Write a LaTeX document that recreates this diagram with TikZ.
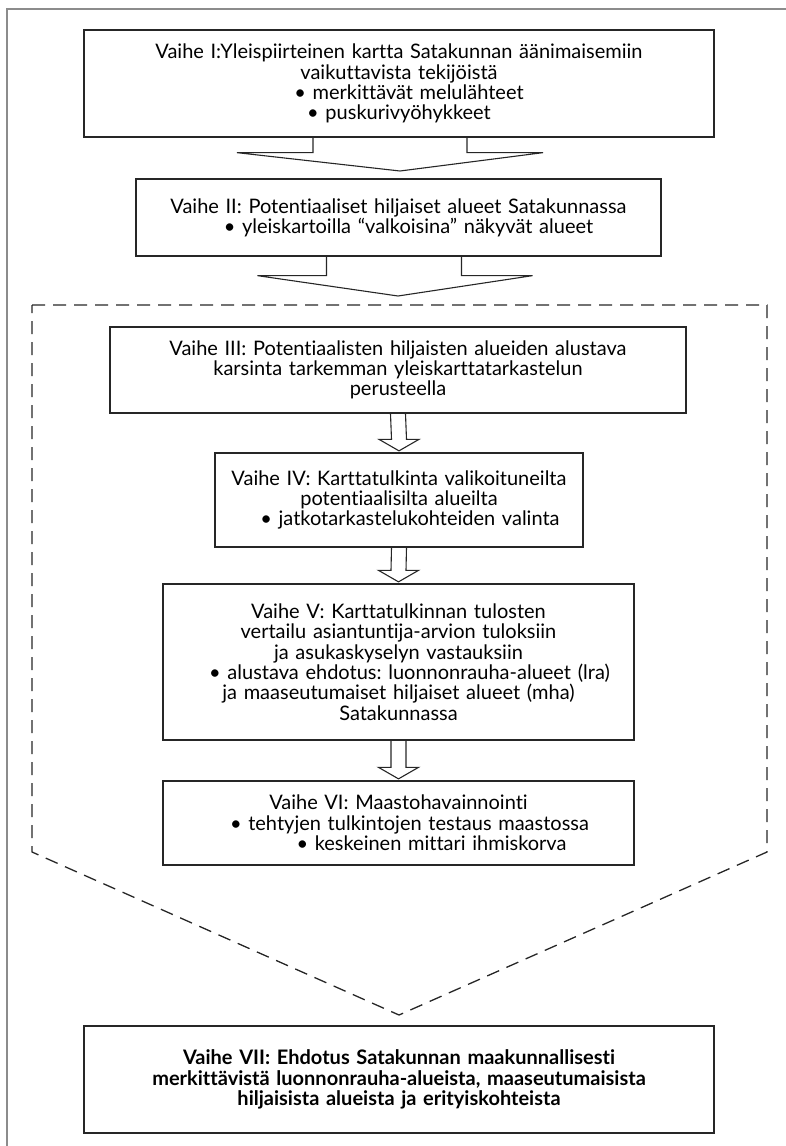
\documentclass[tikz,border=0pt]{standalone}
\usepackage{fontspec}
\setmainfont{Lato}[Ligatures=NoCommon]
\usetikzlibrary{calc}
\frenchspacing

\tikzset{
  stage/.style={draw=black!85, line width=1.3pt, align=center, inner sep=0pt,
    font=\fontsize{20}{20.3}\selectfont},
  boxline/.style={draw=black!85, line width=1.1pt, line join=miter},
  frameline/.style={draw=black!45, line width=1.6pt},
  dashframe/.style={draw=black!85, line width=1.3pt, dash pattern=on 13pt off 8pt},
}

% small block arrow from the bottom of #1 to the top of #2
\newcommand{\flowarrow}[2]{%
  \draw[boxline] ($(#1.south)+(-7.5,0)$) -- ($(#2.north)+(-7.5,-13)$)
    -- ($(#2.north)+(-20,-13)$) -- ($(#2.north)+(0,-1.5)$)
    -- ($(#2.north)+(20,-13)$) -- ($(#2.north)+(7.5,-13)$)
    -- ($(#1.south)+(7.5,0)$);%
}

\begin{document}
\begin{tikzpicture}[x=1pt,y=-1pt]
  \useasboundingbox (0,0) rectangle (786,1146);

  % Drawing page frame (top and left only)
  \draw[frameline] (786,9) -- (7,9) -- (7,1146);

  % Drawing stages I and II
  \node[stage, text width=630pt, minimum height=107pt] (v1) at (399,83.5)
    {Vaihe I:Yleispiirteinen kartta Satakunnan äänimaisemiin\\
     vaikuttavista tekijöistä\\
     \hspace*{20pt}• merkittävät melulähteet\\
     • puskurivyöhykkeet};
  \node[stage, text width=525pt, minimum height=77pt] (v2) at (398.5,217.5)
    {Vaihe II: Potentiaaliset hiljaiset alueet Satakunnassa\\
     \hspace*{20pt}• yleiskartoilla “valkoisina” näkyvät alueet};

  % Drawing dashed frame round stages III--VI
  \draw[dashframe] (32,305) -- (767,305) -- (767,852) -- (399,1015) -- (32,852) -- cycle;
  \coordinate (tip1) at (400,171);
  \coordinate (tip2) at (398,296);

  % Drawing wide arrows
  \draw[boxline] ($(v1.south)+(-86,0)$) |- ($(v1.south)+(-162,15)$) -- (tip1)
    -- ($(v1.south)+(144,15)$) -| ($(v1.south)+(68,0)$);
  \draw[boxline] ($(v2.south)+(-72,0)$) |- ($(v2.south)+(-141,19)$) -- (tip2)
    -- ($(v2.south)+(134,19)$) -| ($(v2.south)+(63,0)$);

  % Drawing stages III--VI
  \node[stage, text width=576pt, minimum height=86pt] (v3) at (398,370)
    {Vaihe III: Potentiaalisten hiljaisten alueiden alustava\\
     karsinta tarkemman yleiskarttatarkastelun\\
     perusteella};
  \node[stage, text width=368pt, minimum height=94pt] (v4) at (399,500)
    {Vaihe IV: Karttatulkinta valikoituneilta\\
     potentiaalisilta alueilta\\
     \hspace*{22pt}• jatkotarkastelukohteiden valinta};
  \node[stage, text width=471pt, minimum height=156pt] (v5) at (398.5,662)
    {Vaihe V: Karttatulkinnan tulosten\\
     vertailu asiantuntija-arvion tuloksiin\\
     ja asukaskyselyn vastauksiin\\
     \hspace*{22pt}• alustava ehdotus: luonnonrauha-alueet (lra)\\
     ja maaseutumaiset hiljaiset alueet (mha)\\
     Satakunnassa};
  \node[stage, text width=471pt, minimum height=84pt] (v6) at (398.5,823)
    {Vaihe VI: Maastohavainnointi\\
     \hspace*{22pt}• tehtyjen tulkintojen testaus maastossa\\
     \hspace*{66pt}• keskeinen mittari ihmiskorva};

  % Drawing small arrows
  \flowarrow{v3}{v4}
  \flowarrow{v4}{v5}
  \flowarrow{v5}{v6}

  % Drawing stage VII
  \node[stage, font=\fontsize{20}{20.3}\selectfont\bfseries,
    text width=630pt, minimum height=107pt] (v7) at (399,1079.5)
    {Vaihe VII: Ehdotus Satakunnan maakunnallisesti\\
     merkittävistä luonnonrauha-alueista, maaseutumaisista\\
     hiljaisista alueista ja erityiskohteista};
\end{tikzpicture}
\end{document}
